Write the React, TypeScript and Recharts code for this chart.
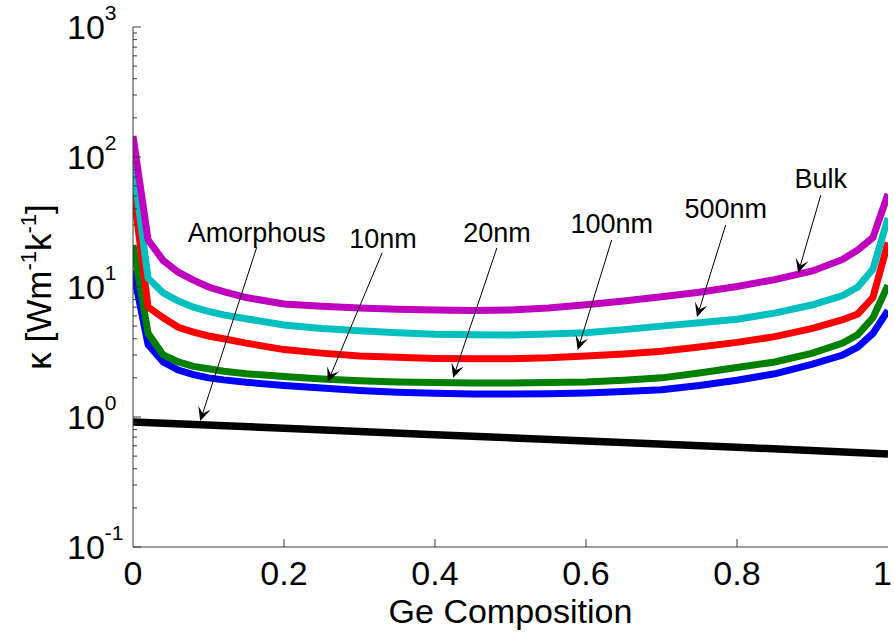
import { LineChart, Line, XAxis, YAxis, ReferenceLine, ReferenceDot } from 'recharts';

// Ge composition grid shared by the crystalline curves
const composition = [0, 0.02, 0.04, 0.06, 0.08, 0.1, 0.12, 0.15, 0.2, 0.25, 0.3, 0.35, 0.4, 0.45, 0.5, 0.55, 0.6, 0.65, 0.7, 0.75, 0.8, 0.85, 0.9, 0.94, 0.96, 0.98, 1];
const kBulk = [145, 23, 16, 13, 11.3, 10, 9.2, 8.3, 7.4, 7.1, 6.9, 6.75, 6.65, 6.6, 6.65, 6.9, 7.3, 7.8, 8.4, 9.1, 10.1, 11.4, 13.3, 16.3, 19.3, 24, 52];
const k500nm = [88, 11.7, 9.0, 7.8, 7.0, 6.5, 6.1, 5.7, 5.1, 4.8, 4.6, 4.45, 4.33, 4.3, 4.28, 4.35, 4.45, 4.7, 5.0, 5.3, 5.65, 6.3, 7.3, 8.6, 10, 13.7, 34];
const k100nm = [58, 7.0, 5.8, 4.9, 4.5, 4.2, 4.0, 3.7, 3.3, 3.1, 2.95, 2.88, 2.82, 2.8, 2.8, 2.85, 2.95, 3.05, 3.2, 3.45, 3.75, 4.15, 4.8, 5.6, 6.2, 8.3, 22];
const k20nm = [21, 4.4, 3.0, 2.65, 2.45, 2.35, 2.25, 2.15, 2.05, 1.96, 1.9, 1.86, 1.84, 1.83, 1.83, 1.84, 1.86, 1.92, 2.0, 2.18, 2.4, 2.65, 3.1, 3.7, 4.3, 5.8, 10.3];
const k10nm = [13.5, 3.6, 2.65, 2.3, 2.12, 2.0, 1.93, 1.85, 1.75, 1.67, 1.6, 1.55, 1.52, 1.5, 1.5, 1.51, 1.53, 1.57, 1.62, 1.75, 1.92, 2.15, 2.55, 3.0, 3.45, 4.4, 6.6];

const amorphousX = [0, 0.2, 0.4, 0.6, 0.8, 1];
const kAmorphous = [0.915, 0.82, 0.73, 0.655, 0.585, 0.52];

const xTicks = [0, 0.2, 0.4, 0.6, 0.8, 1];
const xTickLabels = ['0', '0.2', '0.4', '0.6', '0.8', '1'];
const decades = [0.1, 1, 10, 100, 1000];
const decadeExp = ['-1', '0', '1', '2', '3'];
const minorSteps = [2, 3, 4, 5, 6, 7, 8, 9];

// series order = draw order (last on top)
const series = [
  { key: 'k10nm', values: k10nm, color: '#0000FF' },
  { key: 'k20nm', values: k20nm, color: '#008000' },
  { key: 'k100nm', values: k100nm, color: '#FF0000' },
  { key: 'k500nm', values: k500nm, color: '#00BFBF' },
  { key: 'kBulk', values: kBulk, color: '#BF00BF' },
];

// label text position, arrow start and arrow tip in data units
const annotations = [
  { text: 'Amorphous', tx: 0.164, ty: 26.5, x1: 0.164, y1: 20.3, x2: 0.089, y2: 0.93 },
  { text: '10nm', tx: 0.331, ty: 23.8, x1: 0.33, y1: 18.3, x2: 0.258, y2: 1.86 },
  { text: '20nm', tx: 0.482, ty: 26.5, x1: 0.482, y1: 20, x2: 0.424, y2: 2.0 },
  { text: '100nm', tx: 0.634, ty: 31, x1: 0.634, y1: 23, x2: 0.589, y2: 3.27 },
  { text: '500nm', tx: 0.785, ty: 40.5, x1: 0.785, y1: 30, x2: 0.747, y2: 5.87 },
  { text: 'Bulk', tx: 0.911, ty: 69, x1: 0.911, y1: 51, x2: 0.881, y2: 12.8 },
];

const rows = composition.map((c, i) => {
  const r: Record<string, number> = { x: c };
  series.forEach((s) => (r[s.key] = s.values[i]));
  return r;
});
const amorphousRows = amorphousX.map((c, i) => ({ x: c, k: kAmorphous[i] }));

const yTicks = decades.flatMap((d, i) =>
  i < decades.length - 1 ? [d, ...minorSteps.map((m) => +(d * m).toPrecision(2))] : [d]
);

const FONT = '"Liberation Sans", Arial, Helvetica, sans-serif';
const AXIS = '#3a3a3a';

const isDecade = (v: number) => decades.findIndex((d) => Math.abs(d - v) / d < 1e-6);

const LeftTick = ({ x, y, payload }: any) => {
  const idx = isDecade(payload.value);
  const len = idx >= 0 ? 8 : 4;
  return (
    <g>
      <line x1={x} x2={x + len} y1={y} y2={y} stroke={AXIS} />
      {idx >= 0 && (
        <text x={x - 66} y={y + 12} fontFamily={FONT} fontSize={34} fill="#000">
          10
          <tspan dy={-19} fontSize={21}>{decadeExp[idx]}</tspan>
        </text>
      )}
    </g>
  );
};

const RightTick = ({ x, y, payload }: any) => {
  const len = isDecade(payload.value) >= 0 ? 8 : 4;
  return <line x1={x} x2={x - len} y1={y} y2={y} stroke={AXIS} />;
};

const BottomTick = ({ x, y, payload }: any) => {
  const idx = xTicks.indexOf(payload.value);
  const inner = idx > 0 && idx < xTicks.length - 1;
  const last = idx === xTicks.length - 1;
  return (
    <g>
      {inner && <line x1={x} x2={x} y1={y} y2={y - 8} stroke={AXIS} />}
      <text
        x={last ? x + 4 : x}
        y={y + 38}
        textAnchor={last ? 'end' : 'middle'}
        fontFamily={FONT}
        fontSize={34}
        fill="#000"
      >
        {xTickLabels[idx]}
      </text>
    </g>
  );
};

const TopTick = ({ x, y }: any) => <line x1={x} x2={x} y1={y} y2={y + 8} stroke={AXIS} />;

const YTitle = ({ viewBox }: any) => {
  const vb = viewBox || { x: 0, y: 27, width: 133, height: 520 };
  const cx = vb.x + 51;
  const cy = vb.y + vb.height / 2;
  return (
    <text
      x={cx}
      y={cy}
      transform={`rotate(-90, ${cx}, ${cy})`}
      textAnchor="middle"
      fontFamily={FONT}
      fontSize={35}
      fill="#000"
    >
      κ [Wm<tspan dy={-15} fontSize={22}>-1</tspan>
      <tspan dy={15}>k</tspan>
      <tspan dy={-15} fontSize={22}>-1</tspan>
      <tspan dy={15}>]</tspan>
    </text>
  );
};

const XTitle = ({ viewBox }: any) => {
  const vb = viewBox || { x: 133, y: 547, width: 755, height: 87 };
  return (
    <text x={vb.x + vb.width / 2} y={vb.y + 76} textAnchor="middle" fontFamily={FONT} fontSize={34} fill="#000">
      Ge Composition
    </text>
  );
};

const Arrow = ({ x1, y1, x2, y2 }: any) => {
  const dx = x2 - x1;
  const dy = y2 - y1;
  const d = Math.sqrt(dx * dx + dy * dy) || 1;
  const ux = dx / d;
  const uy = dy / d;
  const nx = -uy;
  const ny = ux;
  const L = 14, W = 6.5, N = 8;
  const pts = [
    [x2, y2],
    [x2 - L * ux + W * nx, y2 - L * uy + W * ny],
    [x2 - N * ux, y2 - N * uy],
    [x2 - L * ux - W * nx, y2 - L * uy - W * ny],
  ]
    .map((p) => p.join(','))
    .join(' ');
  return (
    <g>
      <line x1={x1} y1={y1} x2={x2 - N * ux} y2={y2 - N * uy} stroke="#000" strokeWidth={1} />
      <polygon points={pts} fill="#000" />
    </g>
  );
};

export default function App() {
  return (
    <div>
      <style>{'body{margin:0}'}</style>
      <LineChart
        width={894}
        height={634}
        data={rows}
        margin={{ top: 27, right: 6, left: 0, bottom: 0 }}
        style={{ fontFamily: FONT, background: '#fff' }}
      >
        <XAxis
          xAxisId="x"
          dataKey="x"
          type="number"
          domain={[0, 1]}
          ticks={xTicks}
          allowDataOverflow
          height={87}
          interval={0}
          tickSize={0}
          tickMargin={0}
          tickLine={false}
          axisLine={{ stroke: AXIS }}
          tick={<BottomTick />}
          label={{ content: (p: any) => <XTitle {...p} /> }}
        />
        <XAxis
          xAxisId="t"
          orientation="top"
          type="number"
          domain={[0, 1]}
          ticks={xTicks.slice(1, -1)}
          height={0}
          interval={0}
          tickSize={0}
          tickMargin={0}
          tickLine={false}
          axisLine={{ stroke: AXIS }}
          tick={<TopTick />}
        />
        <YAxis
          yAxisId="y"
          scale="log"
          type="number"
          domain={[0.1, 1000]}
          ticks={yTicks}
          allowDataOverflow
          width={133}
          interval={0}
          tickSize={0}
          tickMargin={0}
          tickLine={false}
          axisLine={{ stroke: AXIS }}
          tick={<LeftTick />}
          label={{ content: (p: any) => <YTitle {...p} /> }}
        />
        <YAxis
          yAxisId="r"
          orientation="right"
          scale="log"
          type="number"
          domain={[0.1, 1000]}
          ticks={yTicks}
          allowDataOverflow
          width={0}
          interval={0}
          tickSize={0}
          tickMargin={0}
          tickLine={false}
          axisLine={{ stroke: AXIS }}
          tick={<RightTick />}
        />
        <Line
          xAxisId="x"
          yAxisId="y"
          data={amorphousRows}
          dataKey="k"
          type="linear"
          stroke="#000"
          strokeWidth={7.5}
          dot={false}
          isAnimationActive={false}
        />
        {series.map((s) => (
          <Line
            key={s.key}
            xAxisId="x"
            yAxisId="y"
            dataKey={s.key}
            type="linear"
            stroke={s.color}
            strokeWidth={7}
            dot={false}
            isAnimationActive={false}
          />
        ))}
        {annotations.map((a) => (
          <ReferenceLine
            key={`arrow-${a.text}`}
            xAxisId="x"
            yAxisId="y"
            segment={[
              { x: a.x1, y: a.y1 },
              { x: a.x2, y: a.y2 },
            ]}
            stroke="#000"
            shape={(p: any) => <Arrow {...p} />}
          />
        ))}
        {annotations.map((a) => (
          <ReferenceDot
            key={`text-${a.text}`}
            xAxisId="x"
            yAxisId="y"
            x={a.tx}
            y={a.ty}
            r={0}
            shape={(p: any) => (
              <text
                x={p.cx}
                y={p.cy + 10}
                textAnchor="middle"
                fontFamily={FONT}
                fontSize={27}
                fill="#000"
              >
                {a.text}
              </text>
            )}
          />
        ))}
      </LineChart>
    </div>
  );
}
